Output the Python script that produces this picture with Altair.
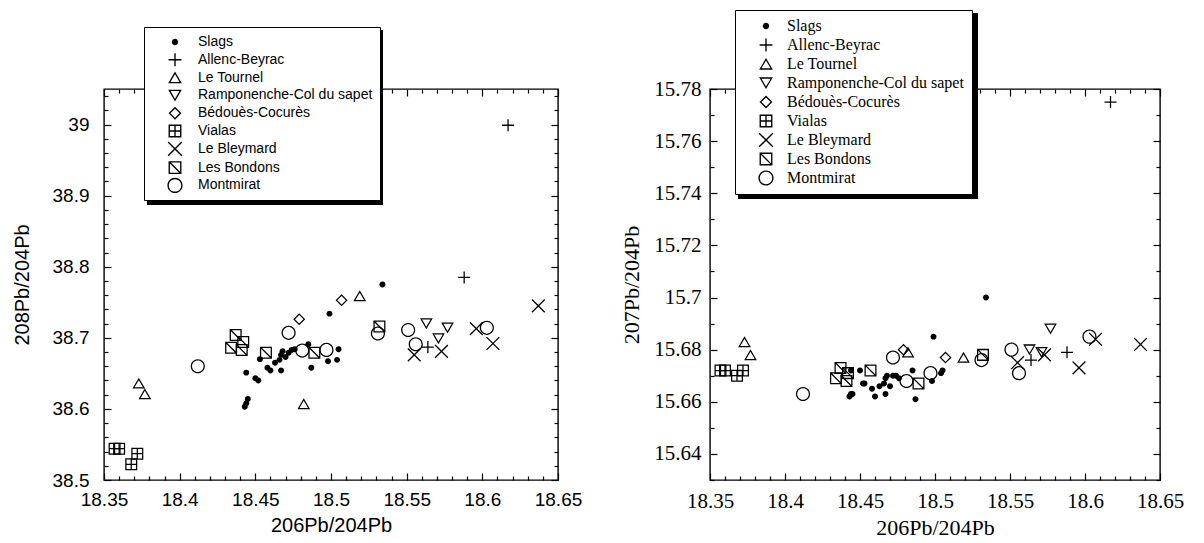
import altair as alt
import pandas as pd

GROUPS = ["Slags", "Allenc-Beyrac", "Le Tournel", "Ramponenche-Col du sapet",
          "Bédouès-Cocurès", "Vialas", "Le Bleymard", "Les Bondons", "Montmirat"]

# 206Pb/204Pb, 208Pb/204Pb, 207Pb/204Pb per group
SLAGS_206 = [18.534, 18.499, 18.444, 18.450, 18.452, 18.445, 18.444, 18.443, 18.453, 18.458,
             18.460, 18.467, 18.463, 18.466, 18.467, 18.468, 18.470, 18.472, 18.474, 18.476,
             18.485, 18.487, 18.498, 18.504, 18.505]
SLAGS_208 = [38.775, 38.734, 38.651, 38.643, 38.640, 38.614, 38.608, 38.603, 38.670, 38.658,
             38.654, 38.654, 38.665, 38.669, 38.676, 38.681, 38.673, 38.679, 38.683, 38.684,
             38.691, 38.658, 38.667, 38.669, 38.684]
SLAGS_207 = [15.700, 15.685, 15.672, 15.672, 15.667, 15.663, 15.663, 15.662, 15.667, 15.665,
             15.662, 15.663, 15.666, 15.667, 15.669, 15.670, 15.666, 15.670, 15.670, 15.669,
             15.672, 15.661, 15.668, 15.671, 15.672]

ALLENC_206 = [18.617, 18.588, 18.564]
ALLENC_208 = [38.999, 38.785, 38.687]
ALLENC_207 = [15.775, 15.679, 15.676]

TOURNEL_206 = [18.373, 18.377, 18.482, 18.519]
TOURNEL_208 = [38.636, 38.621, 38.607, 38.759]
TOURNEL_207 = [15.683, 15.678, 15.679, 15.677]

RAMPON_206 = [18.563, 18.577, 18.571]
RAMPON_208 = [38.720, 38.714, 38.699]
RAMPON_207 = [15.680, 15.688, 15.679]

BEDOUES_206 = [18.479, 18.507]
BEDOUES_208 = [38.726, 38.753]
BEDOUES_207 = [15.680, 15.677]

VIALAS_206 = [18.357, 18.360, 18.368, 18.372]
VIALAS_208 = [38.544, 38.544, 38.522, 38.537]
VIALAS_207 = [15.672, 15.672, 15.670, 15.672]

BLEYMARD_206 = [18.637, 18.596, 18.607, 18.555, 18.573]
BLEYMARD_208 = [38.745, 38.713, 38.692, 38.676, 38.681]
BLEYMARD_207 = [15.682, 15.673, 15.684, 15.675, 15.678]

BONDONS_206 = [18.437, 18.442, 18.434, 18.441, 18.457, 18.489, 18.532]
BONDONS_208 = [38.704, 38.694, 38.686, 38.683, 38.679, 38.679, 38.716]
BONDONS_207 = [15.673, 15.671, 15.669, 15.668, 15.672, 15.667, 15.678]

MONT_206 = [18.412, 18.472, 18.481, 18.497, 18.531, 18.551, 18.556, 18.603]
MONT_208 = [38.660, 38.707, 38.682, 38.683, 38.706, 38.711, 38.691, 38.714]
MONT_207 = [15.663, 15.677, 15.668, 15.671, 15.676, 15.680, 15.671, 15.685]

X_MAJOR = [18.35, 18.4, 18.45, 18.5, 18.55, 18.6, 18.65]
X_MINOR = [18.36, 18.37, 18.38, 18.39, 18.41, 18.42, 18.43, 18.44, 18.46, 18.47, 18.48, 18.49,
           18.51, 18.52, 18.53, 18.54, 18.56, 18.57, 18.58, 18.59, 18.61, 18.62, 18.63, 18.64]
Y208_MAJOR = [38.5, 38.6, 38.7, 38.8, 38.9, 39.0]
Y208_MINOR = [38.52, 38.54, 38.56, 38.58, 38.62, 38.64, 38.66, 38.68, 38.72, 38.74, 38.76, 38.78,
              38.82, 38.84, 38.86, 38.88, 38.92, 38.94, 38.96, 38.98, 39.02, 39.04]
Y207_MAJOR = [15.64, 15.66, 15.68, 15.7, 15.72, 15.74, 15.76, 15.78]
Y207_MINOR = [15.63, 15.65, 15.67, 15.69, 15.71, 15.73, 15.75, 15.77]

# marker outlines drawn as filled rings / bars (nonzero fill rule)
SHAPES = [
    "M-0.42,0A0.42,0.42,0,1,1,0.42,0A0.42,0.42,0,1,1,-0.42,0Z",
    "M-0.85,-0.09H0.85V0.09H-0.85ZM-0.09,-0.85H0.09V0.85H-0.09Z",
    "M0,-0.8L0.9,0.75L-0.9,0.75ZM0,-0.45L-0.6,0.57L0.6,0.57Z",
    "M0,0.8L-0.9,-0.75L0.9,-0.75ZM0,0.45L0.6,-0.57L-0.6,-0.57Z",
    "M0,-0.85L0.85,0L0,0.85L-0.85,0ZM0,-0.6L-0.6,0L0,0.6L0.6,0Z",
    "M-0.85,-0.85L0.85,-0.85L0.85,0.85L-0.85,0.85ZM-0.67,-0.67L-0.67,0.67L0.67,0.67L0.67,-0.67Z"
    "M-0.67,-0.09H0.67V0.09H-0.67ZM-0.09,-0.67H0.09V0.67H-0.09Z",
    "M-0.84,-0.97L0.97,0.84L0.84,0.97L-0.97,-0.84ZM-0.97,0.84L0.84,-0.97L0.97,-0.84L-0.84,0.97Z",
    "M-0.85,-0.85L0.85,-0.85L0.85,0.85L-0.85,0.85ZM-0.67,-0.67L-0.67,0.67L0.67,0.67L0.67,-0.67Z"
    "M-0.61,-0.74L0.74,0.61L0.61,0.74L-0.74,-0.61Z",
    "M-1,0A1,1,0,1,1,1,0A1,1,0,1,1,-1,0ZM-0.82,0A0.82,0.82,0,1,0,0.82,0A0.82,0.82,0,1,0,-0.82,0Z",
]

series = [
    ("Slags", SLAGS_206, SLAGS_208, SLAGS_207),
    ("Allenc-Beyrac", ALLENC_206, ALLENC_208, ALLENC_207),
    ("Le Tournel", TOURNEL_206, TOURNEL_208, TOURNEL_207),
    ("Ramponenche-Col du sapet", RAMPON_206, RAMPON_208, RAMPON_207),
    ("Bédouès-Cocurès", BEDOUES_206, BEDOUES_208, BEDOUES_207),
    ("Vialas", VIALAS_206, VIALAS_208, VIALAS_207),
    ("Le Bleymard", BLEYMARD_206, BLEYMARD_208, BLEYMARD_207),
    ("Les Bondons", BONDONS_206, BONDONS_208, BONDONS_207),
    ("Montmirat", MONT_206, MONT_208, MONT_207),
]
rows = []
for g, xs_, a, b in series:
    for i in range(len(xs_)):
        rows.append({"group": g, "x206": xs_[i], "r208": a[i], "r207": b[i]})
df = pd.DataFrame(rows)


def panel(ycol, ytitle, ydom, ymaj, ymin, font, lblsize, ttlsize, ylabpad, ytitpad,
          lx, ly, lfs, lpad, lrow, lsymoff, llaboff, lw, lh, w, h):
    xs = alt.Scale(domain=[18.35, 18.65], nice=False, zero=False)
    ys = alt.Scale(domain=ydom, nice=False, zero=False)
    base = alt.Chart(df)
    leg = alt.Legend(orient="none", legendX=lx, legendY=ly, title=None, padding=lpad,
                     strokeColor="black", fillColor="white", symbolSize=230,
                     symbolFillColor="black", symbolStrokeWidth=0, symbolOpacity=1,
                     symbolOffset=lsymoff, labelOffset=llaboff, labelFont=font,
                     labelFontSize=lfs, labelColor="black", rowPadding=lrow,
                     labelLimit=400, cornerRadius=0, zindex=2)
    shadow = alt.Legend(orient="none", legendX=lx + 3, legendY=ly + 3, title=None,
                        padding=0, direction="vertical", gradientLength=lh,
                        gradientThickness=lw, gradientStrokeWidth=0, labelExpr="''",
                        labelFontSize=1, labelOffset=0, labelPadding=0, tickCount=1,
                        zindex=1)
    pts = base.mark_point(filled=True, strokeWidth=0, size=200, opacity=1).encode(
        x=alt.X("x206:Q", scale=xs, axis=alt.Axis(
            orient="bottom", values=X_MAJOR, format=".5~g", ticks=False, tickSize=0,
            domain=False, grid=False, labelFont=font, labelFontSize=lblsize,
            labelColor="black", labelPadding=10, labelFlush=False, labelOverlap=False,
            title="206Pb/204Pb", titleFont=font, titleFontSize=ttlsize,
            titleFontWeight="normal", titleColor="black", titlePadding=6)),
        y=alt.Y(f"{ycol}:Q", scale=ys, axis=alt.Axis(
            orient="left", values=ymaj, format=".5~g", ticks=False, tickSize=0,
            domain=False, grid=False, labelFont=font, labelFontSize=lblsize,
            labelColor="black", labelPadding=ylabpad, labelFlush=False,
            labelOverlap=False, title=ytitle, titleFont=font, titleFontSize=ttlsize,
            titleFontWeight="normal", titleColor="black", titlePadding=ytitpad)),
        color=alt.Color("x206:Q", scale=alt.Scale(range=["black", "black"]), legend=shadow),
        shape=alt.Shape("group:N", scale=alt.Scale(domain=GROUPS, range=SHAPES), legend=leg),
    )

    def ticks(xo, yo, xv, yv, s):
        return base.mark_point(opacity=0).encode(
            x=alt.X("x206:Q", scale=xs, axis=alt.Axis(
                orient=xo, values=xv, labels=False, domain=False, grid=False, ticks=True,
                tickSize=s, offset=-s, tickColor="black", tickWidth=1.2, title=None)),
            y=alt.Y(f"{ycol}:Q", scale=ys, axis=alt.Axis(
                orient=yo, values=yv, labels=False, domain=False, grid=False, ticks=True,
                tickSize=s, offset=-s, tickColor="black", tickWidth=1.2, title=None)),
        )

    layers = [pts,
              ticks("bottom", "left", X_MAJOR, ymaj, 7),
              ticks("bottom", "left", X_MINOR, ymin, 4),
              ticks("top", "right", X_MAJOR, ymaj, 7),
              ticks("top", "right", X_MINOR, ymin, 4)]
    return alt.layer(*layers).resolve_axis(x="independent", y="independent").properties(
        width=w, height=h)


left = panel("r208", "208Pb/204Pb", [38.5, 39.05], Y208_MAJOR, Y208_MINOR,
             "Liberation Sans", 19, 20, 15, 20,
             40, -62, 14, 7, 2.8, 16, 15, 236, 175, 454, 391)
right = panel("r207", "207Pb/204Pb", [15.63, 15.78], Y207_MAJOR, Y207_MINOR,
              "Liberation Serif", 21, 22, 9, 10,
              25, -79, 16, 8, 3, 15, 13, 240, 186, 450, 391)

chart = alt.hconcat(left, right, spacing=37).resolve_scale(
    shape="independent", color="independent").resolve_legend(
    shape="independent", color="independent").properties(
    padding={"left": 3, "top": 0, "right": 3, "bottom": 0}).configure_view(
    stroke="black", strokeWidth=1.4)

chart.save("out.html", embed_options={"renderer": "svg", "actions": False})
